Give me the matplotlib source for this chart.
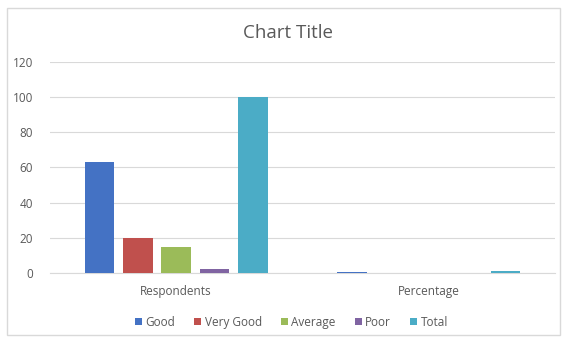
import matplotlib.pyplot as plt
from matplotlib.patches import Rectangle

categories = ['Respondents', 'Percentage']
series = ['Good', 'Very Good', 'Average', 'Poor', 'Total']
good = [63, 0.63]
very_good = [20, 0.20]
average = [15, 0.15]
poor = [2, 0.02]
total = [100, 1.0]
values = [good, very_good, average, poor, total]
colors = ['#4472C4', '#C0504D', '#9BBB59', '#8064A2', '#4BACC6']

plt.rcParams['font.family'] = ['Open Sans', 'DejaVu Sans']

fig = plt.figure(figsize=(5.66, 3.42), dpi=100)
fig.patches.append(Rectangle((0.012, 0.02), 0.978, 0.958, transform=fig.transFigure,
                             fill=False, edgecolor='#d9d9d9', lw=1))
ax = fig.add_axes([0.088, 0.202, 0.893, 0.617])

width = 0.117
step = 0.152
for i, (name, vals) in enumerate(zip(series, values)):
    xs = [c + (i - 2) * step for c in range(len(categories))]
    ax.bar(xs, vals, width, color=colors[i], label=name, zorder=3)

ax.set_xlim(-0.5, 1.5)
ax.set_ylim(0, 120)
ax.set_yticks(range(0, 121, 20))
ax.set_xticks(range(len(categories)))
ax.set_xticklabels(categories)
ax.grid(axis='y', color='#d9d9d9', lw=0.8, zorder=0)
for s in ['top', 'right', 'left']:
    ax.spines[s].set_visible(False)
ax.spines['bottom'].set_color('#d9d9d9')
ax.tick_params(axis='both', length=0, labelsize=8.5, colors='#595959')
ax.tick_params(axis='x', pad=9)
ax.tick_params(axis='y', pad=12)

fig.text(0.509, 0.903, 'Chart Title', ha='center', va='center', fontsize=13.5, color='#595959')
fig.legend(loc='center', bbox_to_anchor=(0.515, 0.058), ncol=5, frameon=False, fontsize=8.5,
           handlelength=0.6, handleheight=0.6, handletextpad=0.3, columnspacing=1.6,
           labelcolor='#595959')

fig.savefig('out.png')
